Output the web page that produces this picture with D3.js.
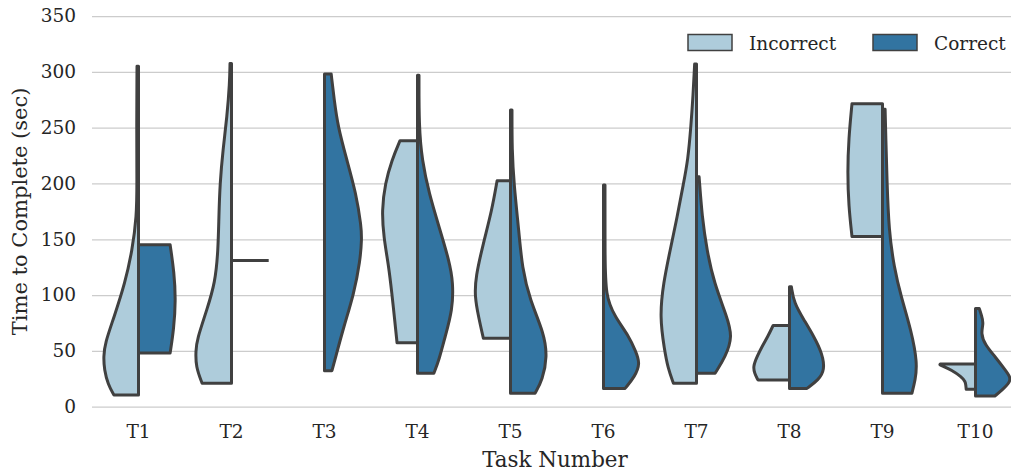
<!DOCTYPE html>
<html>
<head>
<meta charset="utf-8">
<script src="https://cdn.jsdelivr.net/npm/d3@7"></script>
<style>
  html, body { margin: 0; padding: 0; background: #fff; }
  svg { display: block; font-family: "DejaVu Serif", serif; }
</style>
</head>
<body>
<svg id="chart" width="1011" height="472"></svg>
<script>
// ---------------- data ----------------
const tasks = ["T1", "T2", "T3", "T4", "T5", "T6", "T7", "T8", "T9", "T10"];
const groups = ["Incorrect", "Correct"];
const yTicks = [0, 50, 100, 150, 200, 250, 300, 350];

// density profiles: [time (sec), relative density 0..1], from min to max
const incorrectProfiles = [
  [[10.5,0.66],[20,0.82],[33,0.92],[45,0.94],[57,0.90],[80,0.66],[111,0.36],[140,0.17],[170,0.05],[200,0.04],[250,0.05],[305,0.04]],
  [[21,0.79],[36,0.96],[50,0.96],[60,0.93],[87,0.66],[111,0.44],[140,0.36],[170,0.34],[200,0.31],[230,0.23],[260,0.12],[290,0.05],[307.5,0.04]],
  null,
  [[57.3,0.55],[80,0.62],[101.6,0.69],[125,0.77],[152,0.91],[176,0.96],[200,0.87],[221,0.69],[238.3,0.47]],
  [[61.3,0.73],[80.6,0.86],[98.5,0.96],[116,0.94],[146.6,0.73],[176,0.50],[202.5,0.36]],
  null,
  [[21,0.62],[35,0.77],[50.8,0.86],[80.6,0.99],[111,0.89],[140,0.71],[170,0.52],[200,0.35],[221,0.23],[251,0.15],[280,0.09],[307,0.05]],
  [[24,0.85],[30,0.94],[36,0.98],[45,0.87],[54,0.74],[63,0.58],[72.8,0.44]],
  [[152.5,0.82],[180,0.91],[210,0.94],[240,0.91],[271.5,0.82]],
  [[15.6,0.25],[19,0.26],[22.4,0.27],[26.9,0.38],[32.9,0.65],[36,0.85],[37.5,0.97],[38.2,0.95]]
];
const correctProfiles = [
  [[48,0.85],[70,0.95],[95,1.0],[120,0.96],[145,0.85]],
  [[131,1.0]],
  [[32.3,0.20],[42,0.28],[72,0.52],[101,0.79],[131,0.96],[150,1.0],[161,0.99],[191,0.85],[221,0.60],[251,0.36],[275,0.26],[298,0.18]],
  [[29.9,0.44],[42,0.58],[62.5,0.74],[86.6,0.94],[111,0.96],[131,0.85],[161,0.58],[191,0.31],[221,0.12],[251,0.04],[297,0.04]],
  [[12,0.66],[24,0.86],[44.8,0.99],[66,0.90],[95.6,0.52],[125,0.31],[155.6,0.23],[200,0.09],[230,0.04],[265.8,0.04]],
  [[16.4,0.58],[26.9,0.84],[38.9,0.99],[50,0.86],[62.7,0.69],[80.6,0.31],[98.5,0.05],[140,0.04],[198.6,0.04]],
  [[30,0.50],[44.8,0.78],[62.7,0.97],[80.6,0.82],[111,0.47],[140,0.28],[170,0.15],[206,0.07]],
  [[16.4,0.47],[24,0.78],[32.9,0.95],[47.8,0.88],[62.7,0.66],[77.7,0.39],[93,0.12],[107.5,0.05]],
  [[12,0.79],[23.9,0.88],[38.9,0.94],[68.7,0.77],[98.5,0.50],[125,0.31],[158,0.17],[203,0.12],[240,0.09],[266.4,0.07]],
  [[9.6,0.52],[15,0.72],[22,0.93],[27,0.93],[32.9,0.80],[44.8,0.53],[55.3,0.26],[65.8,0.14],[74.7,0.22],[82,0.16],[88,0.10]]
];

// ---------------- styling ----------------
const colors = { Incorrect: "#aeccdb", Correct: "#3274a1" };
const lineColor = "#404040";
const textColor = "#262626";
const gridColor = "#cccccc";

const svg = d3.select("#chart");
const plotLeft = 92, plotRight = 1022, plotTop = 16, plotBottom = 406.7;

const x = d3.scaleBand().domain(tasks).range([plotLeft, plotRight]);
const y = d3.scaleLinear().domain([0, 350]).range([plotBottom, plotTop]);
const halfW = x.bandwidth() * 0.4;
const w = d3.scaleLinear().domain([0, 1]).range([0, halfW]);

// y axis with grid
const yAxis = svg.append("g")
  .attr("transform", `translate(${plotLeft},0)`)
  .call(d3.axisLeft(y).tickValues(yTicks).tickSize(-(plotRight - plotLeft)).tickPadding(16).tickFormat(d3.format("d")));
yAxis.select(".domain").remove();
yAxis.selectAll(".tick line").attr("stroke", gridColor).attr("stroke-width", 1.25);
yAxis.selectAll(".tick text")
  .attr("fill", textColor).attr("font-size", "18.5px")
  .attr("font-family", "DejaVu Serif");

// x axis
const xAxis = svg.append("g")
  .attr("transform", `translate(0,${plotBottom})`)
  .call(d3.axisBottom(x).tickSize(0));
xAxis.select(".domain").remove();
xAxis.selectAll(".tick text")
  .attr("fill", textColor).attr("font-size", "18.5px")
  .attr("font-family", "DejaVu Serif")
  .attr("y", 31).attr("dy", 0);

// violins
const g = svg.append("g");
function drawHalf(profile, task, side, color) {
  if (!profile) return;
  const cx = x(task) + x.bandwidth() / 2;
  if (profile.length === 1) {
    g.append("line")
      .attr("x1", cx).attr("x2", cx + side * w(profile[0][1]))
      .attr("y1", y(profile[0][0])).attr("y2", y(profile[0][0]))
      .attr("stroke", lineColor).attr("stroke-width", 3);
    return;
  }
  const area = d3.area()
    .y(d => y(d[0]))
    .x0(cx)
    .x1(d => cx + side * w(d[1]))
    .curve(d3.curveBasis);
  g.append("path")
    .attr("d", area(profile))
    .attr("fill", color)
    .attr("stroke", lineColor)
    .attr("stroke-width", 3)
    .attr("stroke-linejoin", "round");
}
tasks.forEach((t, i) => {
  drawHalf(incorrectProfiles[i], t, -1, colors.Incorrect);
  drawHalf(correctProfiles[i], t, 1, colors.Correct);
});

// axis titles
svg.append("text")
  .attr("transform", `translate(27,${(plotTop + plotBottom) / 2})rotate(-90)`)
  .attr("text-anchor", "middle")
  .attr("fill", textColor).attr("font-size", "21px")
  .text("Time to Complete (sec)");
svg.append("text")
  .attr("x", (plotLeft + plotRight) / 2 - 2).attr("y", 467)
  .attr("text-anchor", "middle")
  .attr("fill", textColor).attr("font-size", "21.4px")
  .text("Task Number");

// legend
const legendX = [688, 873];
groups.forEach((gr, i) => {
  svg.append("rect")
    .attr("x", legendX[i]).attr("y", 34.5).attr("width", 44).attr("height", 16)
    .attr("fill", colors[gr]).attr("stroke", lineColor).attr("stroke-width", 1.5);
  svg.append("text")
    .attr("x", legendX[i] + 61).attr("y", 50)
    .attr("fill", textColor).attr("font-size", "18.5px")
    .text(gr);
});
</script>
</body>
</html>
